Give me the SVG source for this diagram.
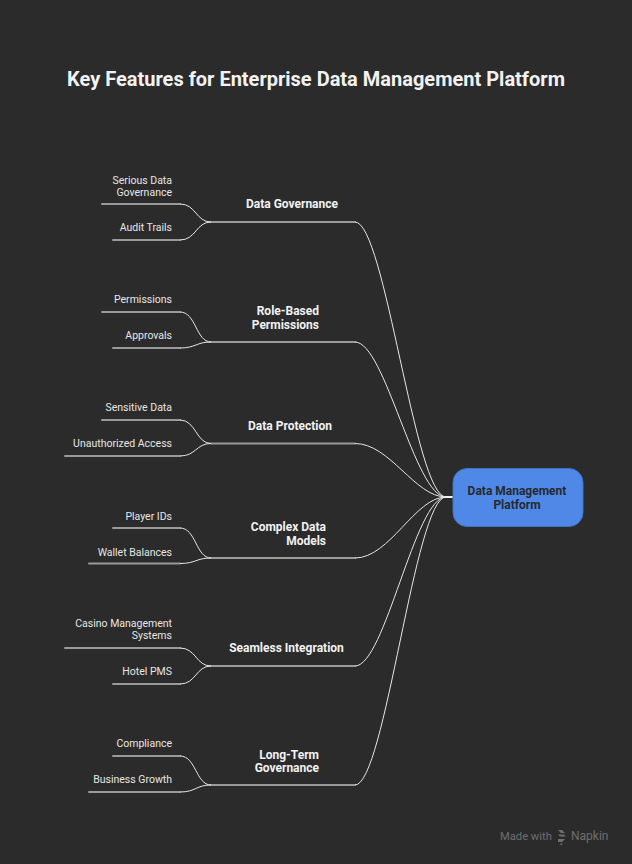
<svg xmlns="http://www.w3.org/2000/svg" width="632" height="864" viewBox="0 0 632 864">
  <style>
    .leaf { font-family: Roboto, "Liberation Sans", sans-serif; font-size: 10.5px; fill: #e6e6e6; text-anchor: end; }
    .lbl { font-family: Roboto, "Liberation Sans", sans-serif; font-size: 12px; font-weight: bold; fill: #f2f2f2; }
    .hl { stroke: #9a9a9a; stroke-width: 2; fill: none; stroke-linecap: round; }
    .cv { stroke: #e6e6e6; stroke-width: 1; fill: none; }
  </style>
  <rect width="632" height="864" fill="#2b2b2b"/>
  <text x="316" y="86" text-anchor="middle" font-family="Roboto, 'Liberation Sans', sans-serif" font-size="20" font-weight="bold" fill="#f2f2f2">Key Features for Enterprise Data Management Platform</text>

  <g id="connectors">
    <!-- leaf horizontals -->
    <path class="hl" d="M102 204H180M113 240H180M102 312H180M113 348H180M102 420H180M65 456H180M113 528H180M89 563.5H180M65 648H180M113 684H180M113 756H180M89 792H180"/>
    <!-- main horizontals -->
    <path class="hl" d="M211 222H355M211 342H355M211 443.5H355M211 558H355M211 666H355M211 785H355"/>
    <!-- leaf curves -->
    <path class="cv" d="M180 204C196 204 196 222 211 222M180 240C196 240 196 222 211 222"/>
    <path class="cv" d="M180 312C196 312 196 342 211 342M180 348C196 348 196 342 211 342"/>
    <path class="cv" d="M180 420C196 420 196 443.5 211 443.5M180 456C196 456 196 443.5 211 443.5"/>
    <path class="cv" d="M180 528C196 528 196 558 211 558M180 563.5C196 563.5 196 558 211 558"/>
    <path class="cv" d="M180 648C196 648 196 666 211 666M180 684C196 684 196 666 211 666"/>
    <path class="cv" d="M180 756C196 756 196 785 211 785M180 792C196 792 196 785 211 785"/>
    <!-- main curves -->
    <path class="cv" d="M355 222C385 222 415 497 446 497"/>
    <path class="cv" d="M355 342C385 342 415 497 446 497"/>
    <path class="cv" d="M355 443.5C390 443.5 415 497 446 497"/>
    <path class="cv" d="M355 558C390 558 415 497 446 497"/>
    <path class="cv" d="M355 666C385 666 415 497 446 497"/>
    <path class="cv" d="M355 785C385 785 415 497 446 497"/>
    <path d="M445 497H453" stroke="#f0f0f0" stroke-width="2"/>
  </g>

  <g id="center">
    <rect x="453" y="468.5" width="130" height="58" rx="14" fill="#4f88e6" stroke="#3f72c4" stroke-width="1"/>
    <text x="517" y="495" text-anchor="middle" font-family="Roboto, 'Liberation Sans', sans-serif" font-size="12" font-weight="bold" fill="#26292f">Data Management</text>
    <text x="517" y="509" text-anchor="middle" font-family="Roboto, 'Liberation Sans', sans-serif" font-size="12" font-weight="bold" fill="#26292f">Platform</text>
  </g>

  <g id="branch-data-governance">
    <text class="lbl" x="292" y="208.3" text-anchor="middle">Data Governance</text>
    <text class="leaf" x="172" y="183.5">Serious Data</text>
    <text class="leaf" x="172" y="195.8">Governance</text>
    <text class="leaf" x="172" y="231.3">Audit Trails</text>
  </g>

  <g id="branch-role-based">
    <text class="lbl" x="319" y="315.3" text-anchor="end">Role-Based</text>
    <text class="lbl" x="319" y="328.6" text-anchor="end">Permissions</text>
    <text class="leaf" x="172" y="303.3">Permissions</text>
    <text class="leaf" x="172" y="339">Approvals</text>
  </g>

  <g id="branch-data-protection">
    <text class="lbl" x="290" y="430" text-anchor="middle">Data Protection</text>
    <text class="leaf" x="172" y="411.3">Sensitive Data</text>
    <text class="leaf" x="172" y="447.3">Unauthorized Access</text>
  </g>

  <g id="branch-complex-data">
    <text class="lbl" x="326" y="531" text-anchor="end">Complex Data</text>
    <text class="lbl" x="326" y="545" text-anchor="end">Models</text>
    <text class="leaf" x="172" y="519.7">Player IDs</text>
    <text class="leaf" x="172" y="555.7">Wallet Balances</text>
  </g>

  <g id="branch-seamless-integration">
    <text class="lbl" x="286.5" y="652.3" text-anchor="middle">Seamless Integration</text>
    <text class="leaf" x="172" y="627">Casino Management</text>
    <text class="leaf" x="172" y="639">Systems</text>
    <text class="leaf" x="172" y="675">Hotel PMS</text>
  </g>

  <g id="branch-long-term">
    <text class="lbl" x="319" y="759.3" text-anchor="end">Long-Term</text>
    <text class="lbl" x="319" y="772.3" text-anchor="end">Governance</text>
    <text class="leaf" x="172" y="747.3">Compliance</text>
    <text class="leaf" x="172" y="783.3">Business Growth</text>
  </g>

  <g id="watermark" fill="#6e6e6e">
    <text x="500" y="840" font-family="Roboto, 'Liberation Sans', sans-serif" font-size="11.2">Made with</text>
    <path d="M558 830l4 0 3 3-4 0zM558 834.5l6 0 2 2-6 0zM558 839l7 0-3 3-4 0zM560 843.5l3 0-2 2z" fill="#6e6e6e"/>
    <text x="571" y="840" font-family="Roboto, 'Liberation Sans', sans-serif" font-size="12">Napkin</text>
  </g>
</svg>
